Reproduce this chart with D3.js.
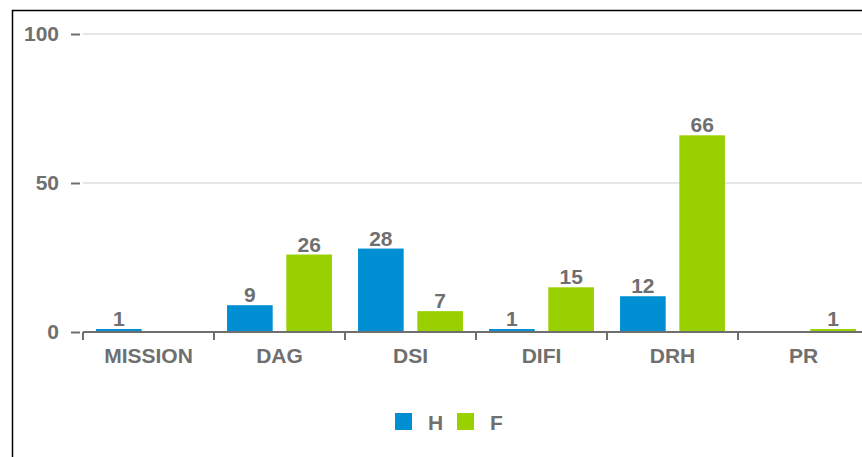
<!DOCTYPE html>
<html>
<head>
<meta charset="utf-8">
<script src="https://cdn.jsdelivr.net/npm/d3@7"></script>
<style>
  body { margin: 0; background: #fff; }
  svg text { font-family: "Liberation Sans", Arial, sans-serif; font-weight: bold; fill: #6f6f6f; }
</style>
</head>
<body>
<div id="chart"></div>
<script>
const categories = ['MISSION', 'DAG', 'DSI', 'DIFI', 'DRH', 'PR'];
const seriesNames = ['H', 'F'];
const valuesH = [1, 9, 28, 1, 12, 0];
const valuesF = [0, 26, 7, 15, 66, 1];
const yTicks = [0, 50, 100];
const colors = ['#008fd3', '#99d100'];

function drawChart() {
    const width = 862, height = 457;
    const svg = d3.select('#chart').append('svg')
        .attr('width', width)
        .attr('height', height);

    // frame (only left and top visible)
    svg.append('path')
        .attr('d', 'M12.5,' + height + 'V10.5H' + width)
        .attr('fill', 'none')
        .attr('stroke', '#000')
        .attr('stroke-width', 1.5);

    const x = d3.scaleBand().domain(categories).range([83, 869]);
    const y = d3.scaleLinear().domain([0, 100]).range([332, 34]);
    const inner = d3.scaleBand().domain(seriesNames).range([0, x.bandwidth()])
        .paddingInner(0.23).paddingOuter(0.22);

    // grid lines
    svg.append('g').selectAll('line')
        .data(yTicks.filter(d => d > 0))
        .enter().append('line')
        .attr('x1', 83).attr('x2', width)
        .attr('y1', d => y(d)).attr('y2', d => y(d))
        .attr('stroke', '#e6e6e6').attr('stroke-width', 2);

    // y axis
    const yAxis = svg.append('g')
        .attr('transform', 'translate(80,0)')
        .call(d3.axisLeft(y).tickValues(yTicks).tickSize(9).tickPadding(12));
    yAxis.select('.domain').remove();
    yAxis.selectAll('line').attr('stroke', '#6f6f6f').attr('stroke-width', 2);
    yAxis.selectAll('text').style('font-size', '21px').attr('fill', '#6f6f6f');

    // bars
    const data = [];
    categories.forEach((c, i) => {
        data.push({cat: c, s: 'H', v: valuesH[i], col: colors[0]});
        data.push({cat: c, s: 'F', v: valuesF[i], col: colors[1]});
    });
    const shown = data.filter(d => d.v > 0);

    svg.append('g').selectAll('rect')
        .data(shown)
        .enter().append('rect')
        .attr('x', d => x(d.cat) + inner(d.s))
        .attr('width', inner.bandwidth())
        .attr('y', d => y(d.v))
        .attr('height', d => y(0) - y(d.v))
        .attr('fill', d => d.col);

    svg.append('g').selectAll('text')
        .data(shown)
        .enter().append('text')
        .attr('x', d => x(d.cat) + inner(d.s) + inner.bandwidth() / 2)
        .attr('y', d => y(d.v) - 3)
        .attr('text-anchor', 'middle')
        .style('font-size', '21px')
        .text(d => d.v);

    // x axis
    const xAxis = svg.append('g')
        .attr('transform', 'translate(0,332)')
        .call(d3.axisBottom(x).tickSize(0).tickPadding(16));
    xAxis.select('.domain').attr('stroke', '#6f6f6f').attr('stroke-width', 2)
        .attr('d', 'M83,0H' + width);
    xAxis.selectAll('text').style('font-size', '21px').attr('fill', '#6f6f6f');
    svg.append('g').selectAll('line')
        .data(categories)
        .enter().append('line')
        .attr('x1', d => x(d)).attr('x2', d => x(d))
        .attr('y1', 332).attr('y2', 340)
        .attr('stroke', '#6f6f6f').attr('stroke-width', 2);

    // legend
    const legend = svg.append('g').selectAll('g')
        .data(seriesNames)
        .enter().append('g')
        .attr('transform', (d, i) => 'translate(' + (395 + i * 62) + ',413)');
    legend.append('rect').attr('width', 17).attr('height', 17)
        .attr('fill', (d, i) => colors[i]);
    legend.append('text').attr('x', 33).attr('y', 17)
        .style('font-size', '21px').text(d => d);
}

drawChart();
</script>
</body>
</html>
